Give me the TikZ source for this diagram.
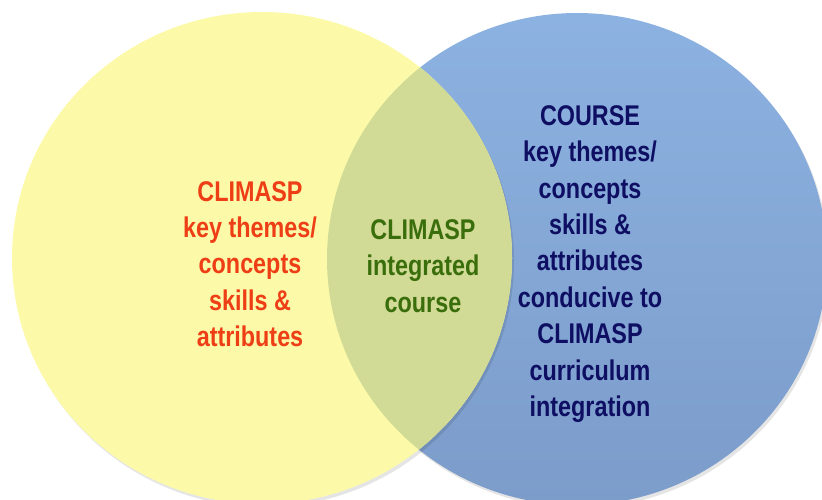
\documentclass[tikz,border=0pt]{standalone}
\usepackage{fontspec}
\newfontfamily\vennfont{Liberation Sans}[FakeStretch=0.82]

\definecolor{climred}{RGB}{238,62,22}
\definecolor{climgreen}{RGB}{58,110,12}
\definecolor{coursenavy}{RGB}{14,14,98}
\definecolor{setyellow}{RGB}{252,250,168}
\definecolor{setbluetop}{RGB}{140,178,225}
\definecolor{setbluebot}{RGB}{124,156,202}
\definecolor{setboth}{RGB}{210,219,150}

\begin{document}
\begin{tikzpicture}[x=1pt, y=-1pt,
  setsize/.style={x radius=250, y radius=246},
  lbl/.style={align=center, inner sep=0pt, font=\vennfont\bfseries\fontsize{28.5}{36.4}\selectfont}]
  \useasboundingbox (0,0) rectangle (822,499);
  \clip (0,0) rectangle (822,499);

  % faint shadows under both sets
  \fill[black, opacity=0.10] (579,262) ellipse [setsize];
  \shade[top color=setbluetop, bottom color=setbluebot] (577,259) ellipse [setsize];
  \fill[black, opacity=0.10] (264,261) ellipse [setsize];
  \fill[setyellow] (262,258) ellipse [setsize];
  % overlap of the two sets
  \begin{scope}
    \clip (577,259) ellipse [setsize];
    \fill[setboth] (262,258) ellipse [setsize];
  \end{scope}

  \node[lbl, text=climred] (climasp) at (250,264) {CLIMASP\\key themes/\\concepts\\skills \&\\attributes};
  \node[lbl, text=climgreen] (integr) at (423,266) {CLIMASP\\integrated\\course};
  \node[lbl, text=coursenavy] (course) at (590,264) {COURSE\\key themes/\\concepts\\skills \&\\attributes\\conducive to\\CLIMASP\\curriculum\\integration};
\end{tikzpicture}
\end{document}
